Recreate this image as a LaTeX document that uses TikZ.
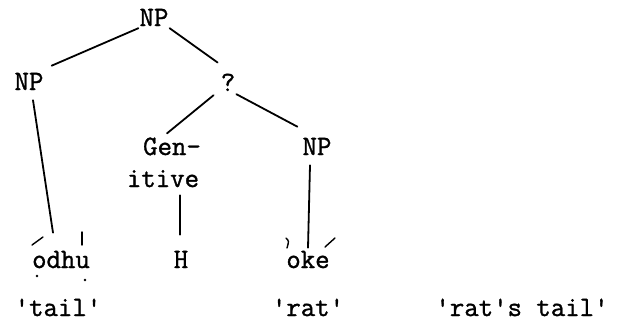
\documentclass[tikz,border=0pt]{standalone}
\usepackage{fontspec}
\setmonofont{Latin Modern Mono}[FakeBold=1.2]
\begin{document}
\begin{tikzpicture}[x=1pt,y=-1pt,
  lbl/.style={font=\ttfamily\fontsize{28}{32}\selectfont, anchor=base, inner sep=2pt},
  edge/.style={line width=1.8pt, line cap=round},
  tonemark/.style={line width=1.4pt, line cap=round}]
\useasboundingbox (0,0) rectangle (620,325);
% nodes
\node[lbl] (top) at (154,26) {NP};
\node[lbl] (lnp) at (29,90) {NP};
\node[lbl] (q) at (228,91) {?};
\node[lbl] (gen) at (172,155) {Gen-};
\node[lbl] (itive) at (163,187) {itive};
\node[lbl] (rnp) at (317,155) {NP};
\node[lbl] (odhu) at (61,268) {odhu};
\node[lbl] (h) at (181,268) {H};
\node[lbl] (oke) at (308,268) {oke};
\node[lbl] (tail) at (58,316) {'tail'};
\node[lbl] (rat) at (308,316) {'rat'};
\node[lbl] (rattail) at (522,316) {'rat's tail'};
% connectors
\draw[edge] ([shift={(1,0)}]top.south west) -- ([shift={(6,-5)}]lnp.north east);
\draw[edge] ([shift={(-1,0)}]top.south east) -- ([shift={(-1,-9)}]q.north west);
\draw[edge] ([shift={(-5,2)}]q.south west) -- ([shift={(-5,-2)}]gen.north);
\draw[edge] ([shift={(-1,1)}]q.south east) -- ([shift={(-3,-9)}]rnp.north west);
\draw[edge] ([shift={(4,8)}]lnp.south) -- ([shift={(-8,-16)}]odhu.north);
\draw[edge] ([shift={(17,6)}]itive.south) -- ([shift={(-1,-14)}]h.north);
\draw[edge] ([shift={(-7,8)}]rnp.south) -- ([shift={(0,-1)}]oke.north);
% tone marks
\draw[tonemark] (32,245) -- (43,237);
\draw[tonemark] (82,232) -- (82,245);
\fill (37,276) circle (1.4);
\fill (85,280) circle (1.4);
\draw[tonemark] (286,238) .. controls (289,241) .. (287,248);
\draw[tonemark] (325,247) -- (335,238);
\end{tikzpicture}
\end{document}
